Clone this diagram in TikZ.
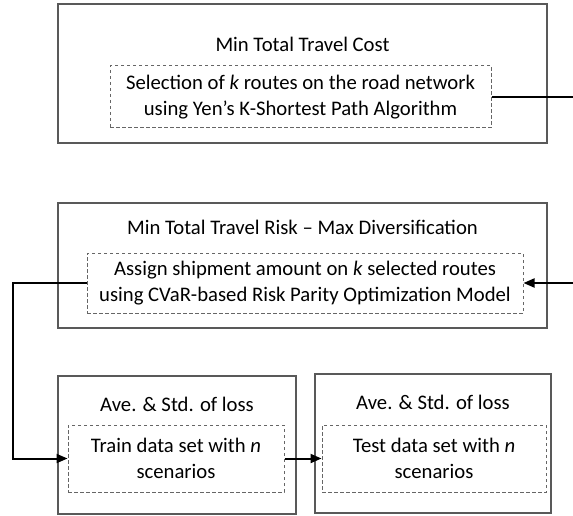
\documentclass[tikz,border=0pt]{standalone}
\usepackage{fontspec}
\setmainfont{Carlito}
\usetikzlibrary{arrows.meta}

\tikzset{
  outerbox/.style={draw=black!65, line width=1.3pt},
  innerbox/.style={draw=black!60, line width=1pt, dash pattern=on 3.5pt off 2.5pt,
    align=center, inner sep=0pt},
  boxtitle/.style={inner sep=0pt},
  flow/.style={line width=2pt, -{Triangle[length=11pt,width=9pt]}}
}

\begin{document}
\begin{tikzpicture}[x=1pt, y=-1pt, font=\fontsize{20.7}{25.5}\selectfont]
  \useasboundingbox (0,0) rectangle (573,516);

  % Stage 1: cost
  \node[outerbox, minimum width=489pt, minimum height=139pt] (cost) at (302.5,73.5) {};
  \node[boxtitle] (costT) at (302.5,44) {Min Total Travel Cost};
  \node[innerbox, minimum width=381pt, minimum height=62pt] (yen) at (300.5,97)
    {Selection of \textit{k} routes on the road network\\using Yen’s K-Shortest Path Algorithm};

  % Stage 2: risk
  \node[outerbox, minimum width=489pt, minimum height=125pt] (risk) at (302.5,265.5) {};
  \node[boxtitle] (riskT) at (302.5,227) {Min Total Travel Risk – Max Diversification};
  \node[innerbox, minimum width=436pt, minimum height=60pt] (cvar) at (305,283)
    {Assign shipment amount on \textit{k} selected routes\\using CVaR-based Risk Parity Optimization Model};

  % Stage 3: evaluation
  \node[outerbox, minimum width=238pt, minimum height=138pt] (train) at (177,445) {};
  \node[boxtitle] (trainT) at (177,404) {Ave. \& Std. of loss};
  \node[innerbox, minimum width=216pt, minimum height=67pt] (trainD) at (176,458.5)
    {Train data set with \textit{n}\\scenarios};

  \node[outerbox, minimum width=236pt, minimum height=139pt] (test) at (433,443.5) {};
  \node[boxtitle] (testT) at (433,402) {Ave. \& Std. of loss};
  \node[innerbox, minimum width=224pt, minimum height=67pt] (testD) at (434,458.5)
    {Test data set with \textit{n}\\scenarios};

  % connectors
  \coordinate (rr) at (600,0);
  \coordinate (ll) at (13,0);
  \draw[flow] (yen.east) -- (yen.east -| rr) |- (cvar.east);
  \draw[flow] (cvar.west) -- (cvar.west -| ll) |- (trainD.west);
  \draw[flow] (trainD.east) -- (testD.west);
\end{tikzpicture}
\end{document}
